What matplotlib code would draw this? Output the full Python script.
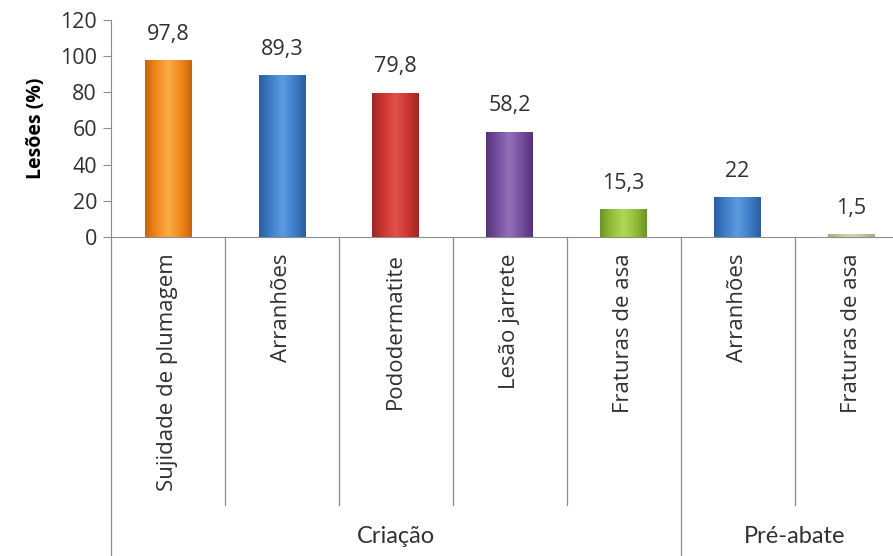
import numpy as np
import matplotlib.pyplot as plt
from matplotlib.colors import LinearSegmentedColormap
from matplotlib.transforms import blended_transform_factory

plt.rcParams['font.family'] = ['Open Sans', 'DejaVu Sans']

categories = ["Sujidade de plumagem", "Arranhões", "Pododermatite", "Lesão jarrete",
              "Fraturas de asa", "Arranhões", "Fraturas de asa"]
values = [97.8, 89.3, 79.8, 58.2, 15.3, 22, 1.5]
value_labels = ["97,8", "89,3", "79,8", "58,2", "15,3", "22", "1,5"]
groups = ["Criação", "Pré-abate"]
group_sizes = [5, 2]

# (dark edge, mid, highlight) per bar
bar_colors = [
    ("#c8650c", "#f28a1c", "#fbac48"),
    ("#2a5d9c", "#3f7fca", "#5d9be0"),
    ("#9e2623", "#cf3633", "#e2524c"),
    ("#553178", "#7650a0", "#9370bc"),
    ("#6a9326", "#94bf3a", "#b2d75a"),
    ("#2a5d9c", "#3f7fca", "#5d9be0"),
    ("#9aae80", "#b8c99e", "#ccd9b6"),
]

fig = plt.figure(figsize=(8.93, 5.56), dpi=100)
ax = fig.add_axes([0.1243, 0.574, 0.893, 0.39])

x = np.arange(len(values))
bars = ax.bar(x, values, width=0.41, color=[c[1] for c in bar_colors],
              edgecolor="none", zorder=2)

# shaded fill so each bar looks rounded
for b, (dark, mid, light) in zip(bars, bar_colors):
    cmap = LinearSegmentedColormap.from_list(
        "b", [dark, mid, light, mid, dark], N=256)
    grad = np.linspace(0, 1, 256).reshape(1, -1)
    x0, y0 = b.get_x(), b.get_y()
    im = ax.imshow(grad, cmap=cmap, aspect="auto", zorder=3,
                   extent=[x0, x0 + b.get_width(), y0, y0 + b.get_height()])
    im.set_clip_path(b)

for xi, v, lab in zip(x, values, value_labels):
    ax.annotate(lab, (xi, v), xytext=(0, 11), textcoords="offset points",
                ha="center", va="bottom", fontsize=15.5, color="#303030")

ax.set_xlim(-0.5, len(values) - 0.5)
ax.set_ylim(0, 120)
ax.set_yticks(np.arange(0, 121, 20))
ax.tick_params(axis="y", labelsize=15.5, colors="#303030", length=6,
               width=0.8, color="#8c8c8c", pad=4)
ax.set_ylabel("Lesões (%)", fontsize=14, fontweight="bold", labelpad=10)

ax.set_xticks(x)
ax.set_xticklabels(categories, rotation=90, fontsize=16, color="#303030")
ax.tick_params(axis="x", length=0, pad=12)

for side in ("top", "right"):
    ax.spines[side].set_visible(False)
ax.spines["left"].set_color("#8c8c8c")
ax.spines["bottom"].set_color("#8c8c8c")

# category dividers below the axis
trans = blended_transform_factory(ax.transData, ax.transAxes)
edges = np.cumsum([0] + group_sizes) - 0.5
for b in np.arange(len(values) + 1) - 0.5:
    bottom = -1.47 if b in edges else -1.235
    ax.plot([b, b], [0, bottom], transform=trans, color="#8c8c8c",
            lw=0.9, clip_on=False)

start = 0
for g, n in zip(groups, group_sizes):
    ax.text(start + (n - 1) / 2, -1.382, g, transform=trans, ha="center",
            va="center", fontsize=17, color="#303030",
            family=["Lato", "DejaVu Sans"])
    start += n

fig.savefig("out.png", dpi=100)
